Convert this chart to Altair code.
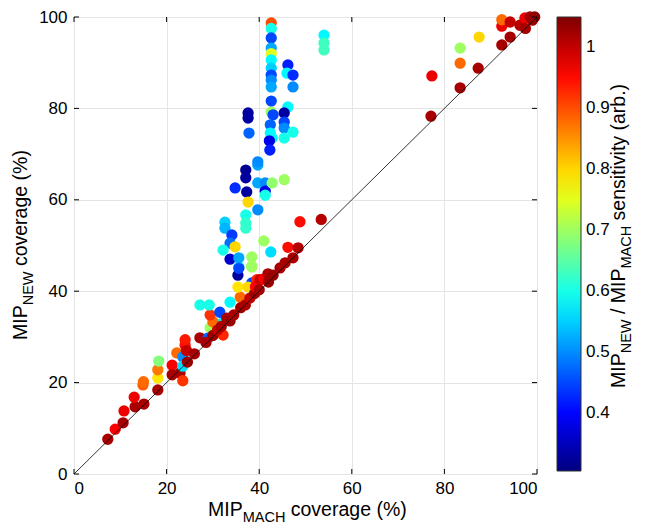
import altair as alt
import pandas as pd

# ---------------- data ----------------
mach_cov = [
    7.3, 8.9, 10.6, 10.8, 13.2, 13.0, 15.1, 14.9, 15.0, 18.1,
    18.1, 18.1, 18.3, 21.2, 21.2, 22.9, 22.2, 23.5, 23.5, 23.5,
    24.0, 24.0, 24.3, 24.5, 27.2, 29.0, 32.2, 29.4, 32.0, 30.0,
    29.4, 31.5, 27.2, 29.2, 33.7, 33.0, 33.7, 35.9, 35.4, 38.4,
    39.5, 37.6, 38.4, 35.6, 35.4, 28.5, 30.0, 31.0, 34.5, 36.0,
    37.0, 38.0, 39.0, 39.2, 40.0, 40.2, 41.0, 41.9, 43.0, 44.5,
    42.0, 45.6, 47.3, 46.2, 48.4, 48.8, 53.4, 26.0, 31.8,
    37.1, 37.1, 37.3, 34.8, 39.7, 39.7, 41.3, 41.3, 41.3, 42.8,
    45.4, 37.6, 39.7, 37.1, 37.1, 37.1, 32.6, 32.6, 34.1, 33.7,
    34.8, 32.2, 33.7, 35.6, 35.6, 38.4, 38.4, 42.5, 41.0, 39.7,
    42.6, 42.6, 42.6, 42.6, 42.6, 42.6, 42.6, 42.6, 42.6, 42.6,
    42.6, 42.6, 43.0, 42.4, 42.4, 42.8, 42.2, 42.3, 37.6, 37.6,
    37.8, 46.2, 46.0, 47.3, 47.3, 46.2, 45.4, 45.4, 45.4, 47.3,
    45.4, 54.0, 54.0, 54.0,
    77.3, 77.1, 83.4, 83.4, 83.4, 87.5, 87.3, 92.4, 94.2, 92.4,
    92.4, 94.2, 96.3, 97.4, 98.5, 99.5, 97.5, 99.0,
]
new_cov = [
    7.6, 9.8, 11.2, 13.8, 14.7, 16.8, 15.3, 19.5, 20.2, 18.4,
    21.0, 22.8, 24.7, 23.8, 21.7, 22.1, 26.5, 25.6, 23.6, 20.4,
    28.2, 29.4, 27.0, 24.5, 29.8, 29.8, 30.4, 32.0, 33.0, 33.3,
    34.8, 35.4, 37.0, 37.0, 37.6, 34.1, 33.5, 38.7, 40.9, 41.8,
    42.5, 40.9, 45.3, 45.3, 43.5, 28.8, 30.3, 31.5, 34.8, 36.4,
    37.0, 38.5, 39.5, 41.0, 40.3, 42.5, 42.7, 43.8, 43.5, 45.1,
    42.0, 46.2, 47.3, 49.6, 49.5, 55.2, 55.7, 26.3, 32.3,
    66.5, 64.8, 61.7, 62.6, 67.6, 63.7, 63.7, 61.9, 61.0, 63.7,
    64.4, 59.5, 57.8, 56.7, 54.9, 53.8, 55.1, 53.8, 52.3, 50.5,
    49.7, 49.0, 47.0, 47.3, 45.0, 47.5, 45.5, 48.6, 51.0, 68.3,
    98.7, 97.5, 95.4, 93.2, 92.0, 90.6, 88.8, 87.3, 86.2, 84.7,
    81.6, 79.2, 78.6, 76.4, 74.6, 73.5, 72.9, 70.9, 79.0, 77.9,
    74.6, 89.5, 87.7, 87.3, 84.7, 80.3, 79.0, 77.0, 75.7, 74.8,
    73.5, 96.0, 94.3, 92.8,
    87.1, 78.3, 84.5, 89.9, 93.2, 95.6, 88.8, 93.9, 95.6, 98.0,
    99.4, 98.9, 98.2, 99.8, 100.0, 100.0, 97.5, 99.3,
]
sensitivity = [
    1.02, 0.96, 1.02, 0.97, 1.02, 0.97, 1.02, 0.89, 0.88, 1.02,
    0.79, 0.87, 0.68, 0.96, 1.02, 1.02, 0.88, 0.50, 0.56, 0.92,
    0.95, 0.94, 1.00, 1.03, 1.02, 0.47, 0.93, 0.70, 0.57, 0.88,
    0.92, 0.45, 0.60, 0.60, 0.58, 1.02, 1.03, 0.88, 0.79, 0.45,
    0.93, 0.80, 0.70, 0.58, 0.33, 1.02, 1.03, 1.00, 1.02, 1.03,
    1.02, 1.00, 1.03, 0.96, 1.02, 1.00, 0.96, 1.02, 1.03, 1.02,
    1.03, 1.02, 1.02, 0.95, 1.01, 0.95, 1.01, 1.02, 1.02,
    0.32, 0.33, 0.33, 0.43, 0.52, 0.52, 0.50, 0.38, 0.60, 0.69,
    0.70, 0.80, 0.50, 0.60, 0.62, 0.62, 0.55, 0.53, 0.44, 0.48,
    0.80, 0.60, 0.36, 0.52, 0.45, 0.70, 0.70, 0.56, 0.70, 0.50,
    0.90, 0.60, 0.45, 0.52, 0.75, 0.58, 0.55, 0.45, 0.50, 0.52,
    0.45, 0.70, 0.45, 0.47, 0.58, 0.58, 0.38, 0.42, 0.33, 0.33,
    0.47, 0.42, 0.58, 0.43, 0.50, 0.58, 0.33, 0.45, 0.50, 0.60,
    0.60, 0.58, 0.63, 0.63,
    0.97, 1.02, 1.02, 0.88, 0.70, 0.80, 1.02, 1.02, 1.02, 0.97,
    0.88, 1.00, 1.01, 0.97, 1.02, 1.04, 1.02, 1.03,
]
tick_values = [0, 20, 40, 60, 80, 100]
diag_x = [0, 100]
diag_y = [0, 100]
cbar_ticks = [0.4, 0.5, 0.6, 0.7, 0.8, 0.9, 1.0]
cbar_domain = [0.305, 0.398, 0.584, 0.771, 0.957, 1.05]
jet_colors = ["#00007f", "#0000ff", "#00ffff", "#ffff00", "#ff0000", "#7f0000"]

pts = pd.DataFrame({"mach": mach_cov, "new": new_cov, "sens": sensitivity})
diag = pd.DataFrame({"x": diag_x, "y": diag_y})
ticks = pd.DataFrame({"t": tick_values})
one = pd.DataFrame({"a": [0]})

FONT = "Liberation Sans"
W, H = 463, 457
TS = 19.5   # title font size
SS = 14.5   # subscript font size

ARIAL = {"M": 833, "I": 278, "P": 667, "N": 722, "E": 667, "W": 944, "A": 667,
         "C": 722, "H": 722, " ": 278, "c": 500, "o": 556, "v": 500, "e": 556,
         "r": 333, "a": 556, "g": 556, "(": 333, "%": 889, ")": 333, "/": 278,
         "s": 500, "n": 556, "i": 222, "t": 278, "y": 500, "b": 556, ".": 278}


def tw(s, size):
    return sum(ARIAL.get(ch, 556) for ch in s) / 1000.0 * size


def txt(s, x, y, size, angle=0):
    return alt.Chart(one).mark_text(
        align="left", baseline="alphabetic", fontSize=size, font=FONT,
        angle=angle, color="black"
    ).encode(x=alt.value(x), y=alt.value(y), text=alt.value(s))


xs = alt.Scale(domain=[0, 100], nice=False, zero=False)
ys = alt.Scale(domain=[0, 100], nice=False, zero=False)

points = alt.Chart(pts).mark_circle(size=128, opacity=1).encode(
    x=alt.X("mach:Q", scale=xs,
            axis=alt.Axis(values=tick_values, title=None, ticks=False, domain=False,
                          labelFontSize=17, labelFont=FONT, labelColor="black",
                          labelPadding=6, grid=True, gridColor="#e4e4e4")),
    y=alt.Y("new:Q", scale=ys,
            axis=alt.Axis(values=tick_values, title=None, ticks=False, domain=False,
                          labelFontSize=17, labelFont=FONT, labelColor="black",
                          labelPadding=7, grid=True, gridColor="#e4e4e4")),
    color=alt.Color("sens:Q", title="",
                    scale=alt.Scale(domain=cbar_domain, range=jet_colors, interpolate="rgb"),
                    legend=alt.Legend(orient="none", legendX=483, legendY=0,
                                      direction="vertical", gradientLength=454,
                                      gradientThickness=24, values=cbar_ticks,
                                      format="~g", labelFontSize=17, labelFont=FONT,
                                      labelColor="black", labelOffset=5,
                                      labelOverlap=False,
                                      gradientStrokeColor="#333333",
                                      gradientStrokeWidth=1)),
)

line = alt.Chart(diag).mark_line(color="black", strokeWidth=0.8).encode(
    x=alt.X("x:Q", scale=xs), y=alt.Y("y:Q", scale=ys))

tb = alt.Chart(ticks).mark_rule(color="black", strokeWidth=1)
tick_layers = [
    tb.encode(x=alt.X("t:Q", scale=xs), y=alt.value(H - 5), y2=alt.value(H)),
    tb.encode(x=alt.X("t:Q", scale=xs), y=alt.value(0), y2=alt.value(5)),
    tb.encode(y=alt.Y("t:Q", scale=ys), x=alt.value(0), x2=alt.value(5)),
    tb.encode(y=alt.Y("t:Q", scale=ys), x=alt.value(W - 5), x2=alt.value(W)),
]

texts = []
# x title: MIP_MACH coverage (%)
x0, yb = 134, 499
texts.append(txt("MIP", x0, yb, TS))
x0 += tw("MIP", TS)
texts.append(txt("MACH", x0, yb + 6, SS))
x0 += tw("MACH", SS) + tw(" ", TS)
texts.append(txt("coverage (%)", x0, yb, TS))

# y title: MIP_NEW coverage (%)
xb, y0 = -47, 323
texts.append(txt("MIP", xb, y0, TS, 270))
y0 -= tw("MIP", TS)
texts.append(txt("NEW", xb + 6, y0, SS, 270))
y0 -= tw("NEW", SS) + tw(" ", TS)
texts.append(txt("coverage (%)", xb, y0, TS, 270))

# colorbar title: MIP_NEW / MIP_MACH sensitivity (arb.)
cb, c0 = 551, 371
texts.append(txt("MIP", cb, c0, TS, 270))
c0 -= tw("MIP", TS)
texts.append(txt("NEW", cb + 6, c0, SS, 270))
c0 -= tw("NEW", SS) + tw(" ", TS)
texts.append(txt("/", cb, c0, TS, 270))
c0 -= tw("/ ", TS)
texts.append(txt("MIP", cb, c0, TS, 270))
c0 -= tw("MIP", TS)
texts.append(txt("MACH", cb + 6, c0, SS, 270))
c0 -= tw("MACH", SS) + tw(" ", TS)
texts.append(txt("sensitivity (arb.)", cb, c0, TS, 270))

chart = alt.layer(points, line, *tick_layers, *texts).properties(
    width=W, height=H,
    autosize=alt.AutoSizeParams(type="none"),
    padding={"left": 66, "top": 9, "right": 100, "bottom": 52},
).configure_view(stroke="black", strokeWidth=1).configure(background="white")

chart.save("out.html", embed_options={"renderer": "svg", "actions": False})
